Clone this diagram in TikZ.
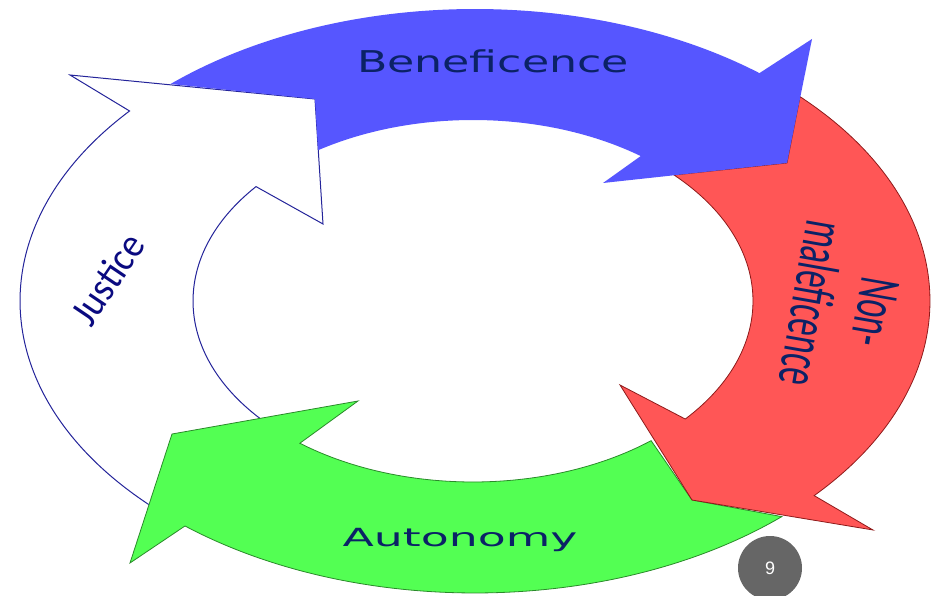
\documentclass[tikz,border=0pt]{standalone}
\usepackage{graphicx}
\usepackage{fontspec}
\setmainfont{DejaVu Sans}
\newfontfamily\carl{Carlito}
\newfontfamily\dejav{DejaVu Sans}
\newfontfamily\numfont{Liberation Sans}
\definecolor{bfill}{HTML}{5656FF}
\definecolor{rfill}{HTML}{FF5656}
\definecolor{gfill}{HTML}{53FF53}
\definecolor{rline}{HTML}{8E1A1A}
\definecolor{gline}{HTML}{2A8A2A}
\definecolor{jline}{HTML}{24249A}
\definecolor{navytext}{HTML}{0B2266}
\definecolor{jtext}{HTML}{0A0A80}
\definecolor{pgfillc}{HTML}{666666}
\tikzset{
  garrow/.style={fill=gfill, draw=gline, line width=0.8pt, line join=miter},
  rarrow/.style={fill=rfill, draw=rline, line width=0.8pt, line join=miter},
  barrow/.style={fill=bfill},
  jarrow/.style={draw=jline, line width=1pt, line join=miter},
  lbl/.style={inner sep=0pt, outer sep=0pt},
  outerE/.style={x radius=455, y radius=292},
  innerE/.style={x radius=280, y radius=181},
}
\begin{document}
\begin{tikzpicture}[x=1pt,y=-1pt]
\useasboundingbox (0,0) rectangle (938,596);
% Justice (white)
\fill[white] ([shift={(475,301)}]135.8:455 and 292) arc[start angle=135.8, end angle=220.6, outerE]
  -- (70,75) -- (315,99) -- (323,224)
  -- ([shift={(473,301)}]219.2:280 and 181) arc[start angle=219.2, end angle=139.4, innerE]
  -- (172,434) -- cycle;
\draw[jarrow] ([shift={(475,301)}]135.8:455 and 292) arc[start angle=135.8, end angle=220.6, outerE]
  -- (70,75) -- (315,99) -- (323,224)
  -- ([shift={(473,301)}]219.2:280 and 181) arc[start angle=219.2, end angle=139.4, innerE];
% Autonomy (green)
\filldraw[garrow] ([shift={(475,301)}]47.6:455 and 292) arc[start angle=47.6, end angle=129.6, outerE]
  -- (130,563) -- (172,434) -- (358,401)
  -- ([shift={(473,301)}]128.2:280 and 181) arc[start angle=128.2, end angle=50.5, innerE]
  -- (692,500) -- cycle;
% Non-maleficence (red)
\filldraw[rarrow] ([shift={(475,301)}]315.6:455 and 292) arc[start angle=315.6, end angle=401.8, outerE]
  -- (873,530) -- (692,500) -- (620,385)
  -- ([shift={(473,301)}]40.7:280 and 181) arc[start angle=40.7, end angle=-44.1, innerE]
  -- (787,163) -- cycle;
% Beneficence (blue)
\fill[barrow] ([shift={(475,301)}]228:455 and 292) arc[start angle=228, end angle=308.7, outerE]
  -- (812,39) -- (787,163) -- (603,183)
  -- ([shift={(473,301)}]306.8:280 and 181) arc[start angle=306.8, end angle=236.4, innerE]
  -- (315,99) -- cycle;
% labels
\node[lbl, anchor=base, text=navytext] (ben) at (493,73) {\scalebox{1.475}[1]{\dejav\fontsize{30}{32}\selectfont Beneficence}};
\node[lbl, anchor=base, text=navytext] (aut) at (460,546) {\scalebox{1.83}[1]{\dejav\fontsize{25}{27}\selectfont Autonomy}};
\node[lbl, anchor=base, text=jtext, rotate=56] (jus) at (119,287) {\scalebox{1}[1.1]{\carl\fontsize{37}{39}\selectfont Justice}};
\node[lbl, anchor=base, text=navytext, rotate=-100] (non) at (857,309) {\scalebox{1}[1.75]{\carl\fontsize{34}{36}\selectfont Non-}};
\node[lbl, anchor=base, text=navytext, rotate=-100] (mal) at (793,300) {\scalebox{1}[1.75]{\carl\fontsize{34}{36}\selectfont maleficence}};
% page number
\node[circle, fill=pgfillc, minimum size=64pt, inner sep=0pt] (pg) at (770,568) {};
\node[lbl, text=white] (pgn) at (pg.center) {\numfont\fontsize{18}{18}\selectfont 9};
\end{tikzpicture}
\end{document}
